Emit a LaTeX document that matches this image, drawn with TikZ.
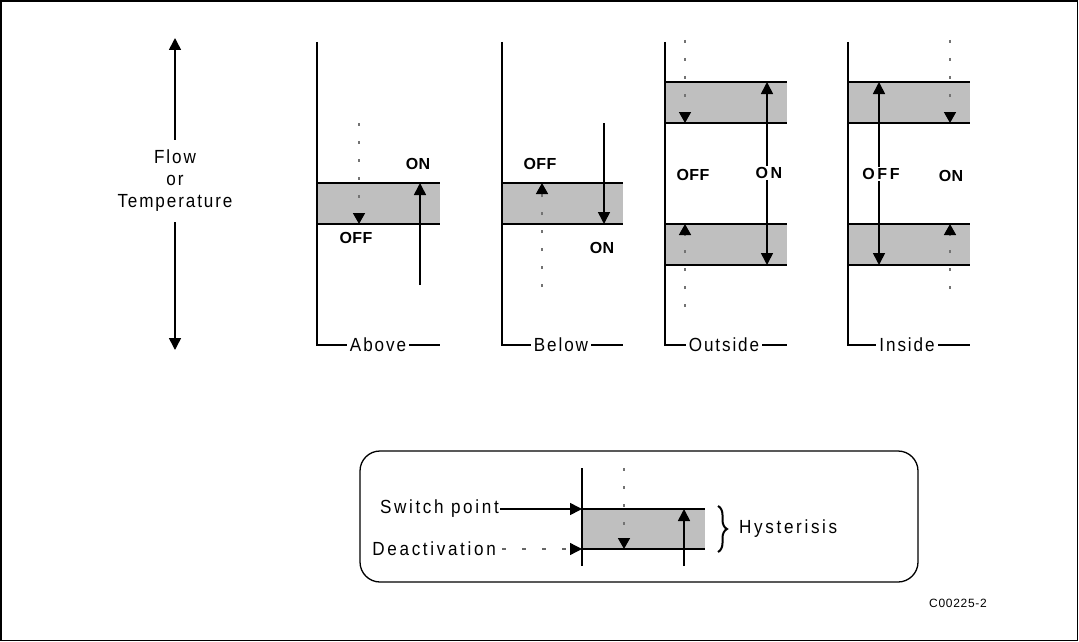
\documentclass[tikz,border=0pt]{standalone}
\usepackage{fontspec}
\setmainfont{Liberation Sans}
\newfontfamily\lblfont{Liberation Sans}[LetterSpace=10,FakeStretch=0.9]
\newfontfamily\keylblfont{Liberation Sans}[LetterSpace=14,FakeStretch=0.9]
\newfontfamily\keyfont{Liberation Sans}[LetterSpace=3]
\newfontfamily\widekeyfont{Liberation Sans}[LetterSpace=16]
\newfontfamily\codefont{Liberation Sans}[LetterSpace=6]
\usetikzlibrary{arrows.meta,decorations.pathreplacing}

\begin{document}
\begin{tikzpicture}[x=1pt,y=-1pt,
  axisline/.style={line width=1.5pt},
  onedge/.style={line width=2.8pt},
  offedge/.style={line width=1.3pt},
  band/.style={fill=black!25,draw=none},
  solidarrow/.style={line width=1.6pt,-{Triangle[length=12pt,width=12pt]}},
  dotarrow/.style={draw=black!55,line width=1.6pt,dash pattern=on 3pt off 15pt,
    -{Triangle[length=11pt,width=12pt,black]}},
  lbl/.style={font=\lblfont\fontsize{19}{22}\selectfont,inner sep=1pt},
  keylbl/.style={font=\keylblfont\fontsize{19}{22}\selectfont,inner sep=1pt},
  namelbl/.style={lbl,fill=white,inner xsep=3pt},
  state/.style={font=\keyfont\bfseries\fontsize{16}{18}\selectfont,inner sep=1pt},
  widestate/.style={font=\widekeyfont\bfseries\fontsize{16}{18}\selectfont,inner sep=1pt},
]
\useasboundingbox (0,0) rectangle (1079,642);
\draw[line width=1.5pt] (1,1) rectangle (1077.5,640.5);

% quantity axis
\node[lbl,align=center] (qty) at (175,181) {Flow\\or\\Temperature};
\coordinate (qty-up) at (175,38);
\coordinate (qty-down) at (175,350);
\draw[solidarrow] (qty.north) ++(0,-9) -- (qty-up);
\draw[solidarrow] (qty.south) ++(0,9) -- (qty-down);

% ---- Above ----
\fill[band] (317,183) rectangle (440,224);
\draw[onedge] (317,183) -- (440,183);
\draw[offedge] (317,224) -- (440,224);
\coordinate (ab-top) at (317,42);
\coordinate (ab-corner) at (317,345);
\coordinate (ab-end) at (440,345);
\draw[axisline] (ab-top) -- (ab-corner) -- (ab-end);
\node[namelbl] (ab-name) at (378,345) {Above};
\coordinate (ab-d1) at (359,123); \coordinate (ab-d2) at (359,224);
\draw[dotarrow] (ab-d1) -- (ab-d2);
\coordinate (ab-s1) at (420,285); \coordinate (ab-s2) at (420,183);
\draw[solidarrow] (ab-s1) -- (ab-s2);
\node[state] (ab-on) at (418,164) {ON};
\node[state] (ab-off) at (356,238) {OFF};

% ---- Below ----
\fill[band] (502,183) rectangle (623,224);
\draw[offedge] (502,183) -- (623,183);
\draw[onedge] (502,224) -- (623,224);
\coordinate (be-top) at (502,42);
\coordinate (be-corner) at (502,345);
\coordinate (be-end) at (623,345);
\draw[axisline] (be-top) -- (be-corner) -- (be-end);
\node[namelbl] (be-name) at (561,345) {Below};
\coordinate (be-d1) at (542,287); \coordinate (be-d2) at (542,183);
\draw[dotarrow] (be-d1) -- (be-d2);
\coordinate (be-s1) at (604,123); \coordinate (be-s2) at (604,224);
\draw[solidarrow] (be-s1) -- (be-s2);
\node[state] (be-off) at (540,164) {OFF};
\node[state] (be-on) at (602,248) {ON};

% ---- Outside ----
\fill[band] (665,82) rectangle (787,123);
\fill[band] (665,224) rectangle (787,265);
\draw[onedge] (665,82) -- (787,82);
\draw[offedge] (665,123) -- (787,123);
\draw[offedge] (665,224) -- (787,224);
\draw[onedge] (665,265) -- (787,265);
\coordinate (ou-top) at (665,42);
\coordinate (ou-corner) at (665,345);
\coordinate (ou-end) at (787,345);
\draw[axisline] (ou-top) -- (ou-corner) -- (ou-end);
\node[namelbl] (ou-name) at (724,345) {Outside};
\coordinate (ou-d1) at (685,40); \coordinate (ou-d2) at (685,123);
\draw[dotarrow] (ou-d1) -- (ou-d2);
\coordinate (ou-d3) at (685,307); \coordinate (ou-d4) at (685,224);
\draw[dotarrow] (ou-d3) -- (ou-d4);
\node[widestate] (ou-on) at (769,173) {ON};
\coordinate (ou-s1) at (767,82); \coordinate (ou-s2) at (767,265);
\draw[solidarrow] (ou-on.north -| ou-s1) -- (ou-s1);
\draw[solidarrow] (ou-on.south -| ou-s2) -- (ou-s2);
\node[state] (ou-off) at (693,175) {OFF};

% ---- Inside ----
\fill[band] (848,82) rectangle (970,123);
\fill[band] (848,224) rectangle (970,265);
\draw[offedge] (848,82) -- (970,82);
\draw[onedge] (848,123) -- (970,123);
\draw[onedge] (848,224) -- (970,224);
\draw[offedge] (848,265) -- (970,265);
\coordinate (in-top) at (848,42);
\coordinate (in-corner) at (848,345);
\coordinate (in-end) at (970,345);
\draw[axisline] (in-top) -- (in-corner) -- (in-end);
\node[namelbl] (in-name) at (907,345) {Inside};
\coordinate (in-d1) at (950,40); \coordinate (in-d2) at (950,123);
\draw[dotarrow] (in-d1) -- (in-d2);
\coordinate (in-d3) at (950,289); \coordinate (in-d4) at (950,224);
\draw[dotarrow] (in-d3) -- (in-d4);
\node[widestate] (in-off) at (881,174) {OFF};
\coordinate (in-s1) at (879,82); \coordinate (in-s2) at (879,265);
\draw[solidarrow] (in-off.north -| in-s1) -- (in-s1);
\draw[solidarrow] (in-off.south -| in-s2) -- (in-s2);
\node[state] (in-on) at (951,176) {ON};

% ---- key ----
\draw[line width=1.3pt,rounded corners=20pt] (360,451) rectangle (918,582);
\fill[band] (582,509) rectangle (705,549);
\draw[onedge] (582,509) -- (705,509);
\draw[offedge] (582,549) -- (705,549);
\coordinate (k-top) at (582,468);
\coordinate (k-bottom) at (582,566);
\draw[axisline] (k-top) -- (k-bottom);
\coordinate (k-d1) at (624,468); \coordinate (k-d2) at (624,549);
\draw[dotarrow] (k-d1) -- (k-d2);
\coordinate (k-s1) at (684,566); \coordinate (k-s2) at (684,509);
\draw[solidarrow] (k-s1) -- (k-s2);
\node[keylbl,anchor=east] (k-switch) at (500,509) {Switch point};
\node[keylbl,anchor=east] (k-deact) at (497,549) {Deactivation};
\coordinate (k-sw) at (582,509);
\coordinate (k-de) at (582,549);
\draw[solidarrow] (k-switch.east) -- (k-sw);
\draw[line width=1.3pt,draw=black!60,dash pattern=on 4pt off 16pt,
  -{Triangle[length=12pt,width=12pt,black]}] (k-deact.east) ++(5,0) -- (k-de);
\coordinate (br-top) at (718,506);
\coordinate (br-bot) at (718,552);
\draw[line width=2pt,decorate,decoration={brace,amplitude=9pt}] (br-top) -- (br-bot);
\node[keylbl,anchor=west] (k-hyst) at (738,529) {Hysterisis};

\node[font=\codefont\fontsize{12}{14}\selectfont] (code) at (958,603) {C00225-2};
\end{tikzpicture}
\end{document}
